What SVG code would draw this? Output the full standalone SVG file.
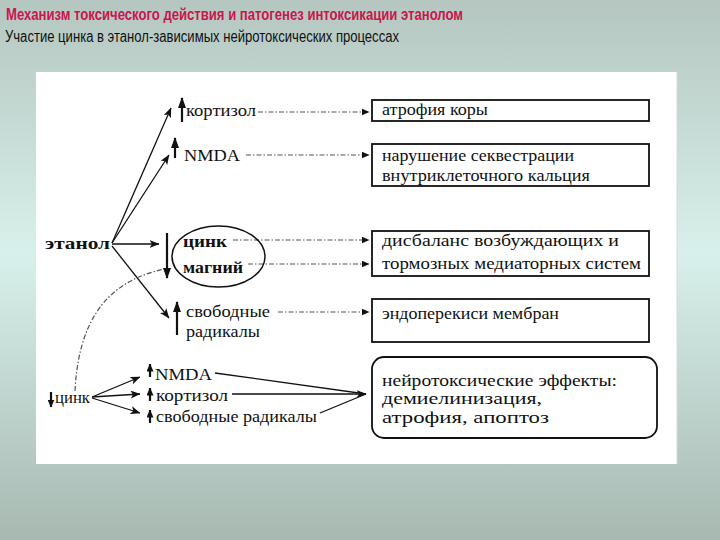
<svg xmlns="http://www.w3.org/2000/svg" width="720" height="540" viewBox="0 0 720 540">
<style>
.t{font-family:"Liberation Serif","DejaVu Serif",serif;font-size:17px;fill:#111}
.b{font-weight:bold}
.box{fill:#fff;stroke:#111;stroke-width:1.8}
.ln{stroke:#111;stroke-width:1.3;fill:none}
.dt{stroke:#555;stroke-width:1.2;fill:none;stroke-dasharray:5 2 1.5 2}
.th{stroke:#111;stroke-width:2.2;fill:none}
</style>
<defs>
<linearGradient id="bg" x1="0" y1="0" x2="0" y2="1">
<stop offset="0" stop-color="#b5c6c0"/>
<stop offset="0.47" stop-color="#d8f0eb"/>
<stop offset="1" stop-color="#a7b9b1"/>
</linearGradient>
<marker id="hk" markerUnits="userSpaceOnUse" markerWidth="11" markerHeight="8" refX="10" refY="4" orient="auto">
<path d="M0,0 L11,4 L0,8 z" fill="#111"/>
</marker>
<marker id="hs" markerUnits="userSpaceOnUse" markerWidth="8" markerHeight="7" refX="7.5" refY="3.5" orient="auto">
<path d="M0,0 L8,3.5 L0,7 z" fill="#111"/>
</marker>
<marker id="ha" markerUnits="userSpaceOnUse" markerWidth="10" markerHeight="8" refX="9.5" refY="4" orient="auto">
<path d="M0,0 L10,4 L0,8 L2.5,4 z" fill="#111"/>
</marker>
<marker id="hd" markerUnits="userSpaceOnUse" markerWidth="8" markerHeight="7" refX="7.5" refY="3.5" orient="auto">
<path d="M0,0 L8,3.5 L0,7 z" fill="#111"/>
</marker>
</defs>
<rect width="720" height="540" fill="url(#bg)"/>
<rect x="36" y="72" width="641" height="392" fill="#fff"/>
<line x1="677" y1="72" x2="677" y2="464" stroke="#d8d8d8" stroke-width="1"/>

<g id="title">
<text x="6" y="20" font-family="'Liberation Sans',Arial,sans-serif" font-size="16" font-weight="bold" fill="#c8174d" textLength="457" lengthAdjust="spacingAndGlyphs">Механизм токсического действия и патогенез интоксикации этанолом</text>
<text x="5" y="42" font-family="'Liberation Sans',Arial,sans-serif" font-size="16" fill="#111" textLength="394" lengthAdjust="spacingAndGlyphs">Участие цинка в этанол-зависимых нейротоксических процессах</text>
</g>

<g id="connectors">
<line class="ln" x1="112" y1="243" x2="171" y2="108" marker-end="url(#ha)"/>
<line class="ln" x1="112" y1="243" x2="169" y2="155" marker-end="url(#ha)"/>
<line class="ln" x1="112" y1="244" x2="159" y2="244" marker-end="url(#ha)"/>
<line class="ln" x1="112" y1="246" x2="169" y2="318" marker-end="url(#ha)"/>
<line class="dt" x1="258" y1="112" x2="369" y2="112" marker-end="url(#hd)"/>
<line class="dt" x1="246" y1="155" x2="369" y2="155" marker-end="url(#hd)"/>
<line class="dt" x1="233" y1="240" x2="369" y2="240" marker-end="url(#hd)"/>
<line class="dt" x1="248" y1="264" x2="369" y2="264" marker-end="url(#hd)"/>
<line class="dt" x1="278" y1="312" x2="369" y2="312" marker-end="url(#hd)"/>
<path class="dt" d="M75,391 C78,330 100,282 165,269"/>
<line class="ln" x1="92" y1="397" x2="140" y2="377" marker-end="url(#ha)"/>
<line class="ln" x1="92" y1="397" x2="140" y2="394" marker-end="url(#ha)"/>
<line class="ln" x1="92" y1="398" x2="140" y2="413" marker-end="url(#ha)"/>
<line class="ln" x1="215" y1="373" x2="366" y2="394"/>
<line class="ln" x1="232" y1="394" x2="366" y2="394" marker-end="url(#ha)"/>
<line class="ln" x1="320" y1="413" x2="366" y2="394"/>
</g>

<g id="arrows-updown">
<line class="th" x1="182" y1="122" x2="182" y2="98" marker-end="url(#hk)"/>
<line class="th" x1="175" y1="158" x2="175" y2="138" marker-end="url(#hk)"/>
<line class="th" x1="167" y1="233" x2="167" y2="278" marker-end="url(#hk)"/>
<line class="th" x1="177" y1="335" x2="177" y2="302" marker-end="url(#hk)"/>
<line class="th" x1="51" y1="392" x2="51" y2="407" marker-end="url(#hs)"/>
<line class="th" x1="150" y1="377" x2="150" y2="364" marker-end="url(#hs)"/>
<line class="th" x1="150" y1="401" x2="150" y2="388" marker-end="url(#hs)"/>
<line class="th" x1="150" y1="423" x2="150" y2="410" marker-end="url(#hs)"/>
</g>

<g id="n-etanol"><text class="t b" x="45" y="249" textLength="65" lengthAdjust="spacingAndGlyphs">этанол</text></g>
<g id="n-kortizol"><text class="t" x="186" y="116" textLength="70" lengthAdjust="spacingAndGlyphs">кортизол</text></g>
<g id="n-nmda"><text class="t" x="184" y="161" textLength="56" lengthAdjust="spacingAndGlyphs">NMDA</text></g>
<g id="n-zn-mg">
<ellipse cx="218.5" cy="256.5" rx="46.5" ry="30.5" fill="none" stroke="#111" stroke-width="1.5"/>
<text class="t b" x="183" y="247" textLength="44" lengthAdjust="spacingAndGlyphs">цинк</text>
<text class="t b" x="183" y="273" textLength="60" lengthAdjust="spacingAndGlyphs">магний</text>
</g>
<g id="n-radicals">
<text class="t" x="186" y="317" textLength="84" lengthAdjust="spacingAndGlyphs">свободные</text>
<text class="t" x="186" y="337" textLength="74" lengthAdjust="spacingAndGlyphs">радикалы</text>
</g>

<g id="b-atrophy">
<rect class="box" x="372" y="100" width="277" height="21"/>
<text class="t" x="382" y="115" textLength="106" lengthAdjust="spacingAndGlyphs">атрофия коры</text>
</g>
<g id="b-calcium">
<rect class="box" x="372" y="144" width="277" height="42"/>
<text class="t" x="382" y="161" textLength="192" lengthAdjust="spacingAndGlyphs">нарушение секвестрации</text>
<text class="t" x="382" y="181" textLength="208" lengthAdjust="spacingAndGlyphs">внутриклеточного кальция</text>
</g>
<g id="b-mediators">
<rect class="box" x="372" y="231" width="277" height="45"/>
<text class="t" x="382" y="246" textLength="237" lengthAdjust="spacingAndGlyphs">дисбаланс возбуждающих и</text>
<text class="t" x="382" y="269" textLength="259" lengthAdjust="spacingAndGlyphs">тормозных медиаторных систем</text>
</g>
<g id="b-peroxides">
<rect class="box" x="372" y="299" width="277" height="43"/>
<text class="t" x="382" y="319" textLength="177" lengthAdjust="spacingAndGlyphs">эндоперекиси мембран</text>
</g>
<g id="b-neurotox">
<rect class="box" x="372" y="357" width="285" height="81" rx="12"/>
<text class="t" x="382" y="386" textLength="235" lengthAdjust="spacingAndGlyphs">нейротоксические эффекты:</text>
<text class="t" x="382" y="404" textLength="160" lengthAdjust="spacingAndGlyphs">демиелинизация,</text>
<text class="t" x="382" y="423" textLength="167" lengthAdjust="spacingAndGlyphs">атрофия, апоптоз</text>
</g>

<g id="n-zinc-low"><text class="t" x="55" y="403" textLength="35" lengthAdjust="spacingAndGlyphs">цинк</text></g>
<g id="n-nmda2"><text class="t" x="155" y="380" textLength="57" lengthAdjust="spacingAndGlyphs">NMDA</text></g>
<g id="n-kortizol2"><text class="t" x="156" y="401" textLength="72" lengthAdjust="spacingAndGlyphs">кортизол</text></g>
<g id="n-radicals2"><text class="t" x="156" y="422" textLength="161" lengthAdjust="spacingAndGlyphs">свободные радикалы</text></g>
</svg>
